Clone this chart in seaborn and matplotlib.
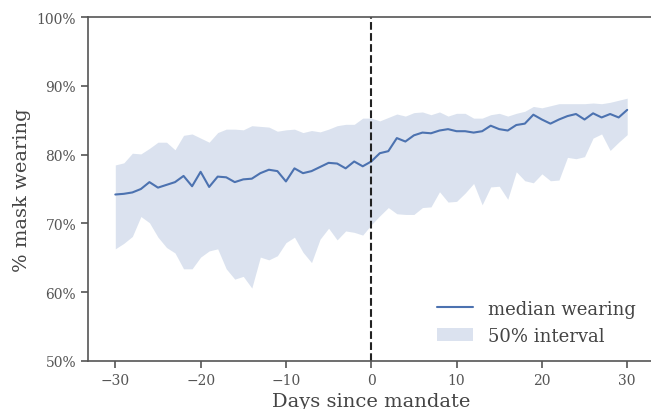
import numpy as np
import pandas as pd
import matplotlib
matplotlib.use("Agg")
import matplotlib.pyplot as plt
import seaborn as sns
from matplotlib.ticker import PercentFormatter

# days relative to the mandate
days = list(range(-30, 31))

# median mask wearing (%)
median = [74.2, 74.3, 74.5, 75.0, 76.0, 75.2, 75.6, 76.0, 76.9, 75.4,
          77.5, 75.3, 76.8, 76.7, 76.0, 76.4, 76.5, 77.3, 77.8, 77.6,
          76.1, 78.0, 77.3, 77.6, 78.2, 78.8, 78.7, 78.0, 79.0, 78.3,
          79.0,
          80.2, 80.5, 82.4, 81.9, 82.8, 83.2, 83.1, 83.5, 83.7, 83.4,
          83.4, 83.2, 83.4, 84.2, 83.7, 83.5, 84.3, 84.5, 85.8, 85.1,
          84.5, 85.1, 85.6, 85.9, 85.1, 86.0, 85.4, 85.9, 85.4, 86.5]

# 50% interval bounds (%)
lower = [66.3, 67.1, 68.1, 71.0, 70.1, 68.0, 66.5, 65.7, 63.4, 63.4,
         65.1, 66.0, 66.3, 63.4, 61.9, 62.3, 60.6, 65.1, 64.7, 65.3,
         67.2, 68.0, 65.8, 64.3, 67.7, 69.3, 67.6, 68.9, 68.7, 68.3,
         69.8,
         71.1, 72.3, 71.4, 71.3, 71.3, 72.3, 72.4, 74.6, 73.1, 73.2,
         74.4, 75.8, 72.7, 75.3, 75.4, 73.5, 77.5, 76.2, 75.9, 77.2,
         76.2, 76.3, 79.6, 79.4, 79.7, 82.4, 83.0, 80.6, 81.8, 82.9]

upper = [78.5, 78.8, 80.2, 80.1, 80.9, 81.8, 81.8, 80.7, 82.8, 83.0,
         82.4, 81.8, 83.2, 83.7, 83.7, 83.6, 84.2, 84.1, 84.0, 83.4,
         83.6, 83.7, 83.2, 83.5, 83.3, 83.7, 84.2, 84.4, 84.4, 85.3,
         85.3,
         84.9, 85.4, 85.9, 85.6, 86.1, 86.2, 85.8, 86.2, 85.6, 86.0,
         86.0, 85.3, 85.3, 85.8, 86.0, 85.6, 86.0, 86.3, 87.0, 86.8,
         87.1, 87.4, 87.4, 87.4, 87.4, 87.5, 87.4, 87.6, 87.9, 88.2]

df = pd.DataFrame({"day": days, "median": median, "lower": lower, "upper": upper})

sns.set_theme(style="ticks")
plt.rcParams["font.family"] = ["DejaVu Serif"]
grey = "#555555"
plt.rcParams.update({
    "axes.edgecolor": grey,
    "xtick.color": grey,
    "ytick.color": grey,
    "axes.labelcolor": "#444444",
    "text.color": "#444444",
})

fig = plt.figure(figsize=(6.51, 4.10), dpi=100)
ax = fig.add_axes([88 / 651, 48 / 410, 566.5 / 651, 344 / 410])

blue = sns.color_palette("deep")[0]
ax.fill_between(df["day"], df["lower"], df["upper"], color=blue, alpha=0.2,
                linewidth=0, label="50% interval")
sns.lineplot(data=df, x="day", y="median", ax=ax, color=blue, linewidth=1.5,
             label="median wearing")
ax.axvline(0, color="#222222", linestyle="--", linewidth=1.5)

ax.set_xlim(-33.2, 33.2)
ax.set_ylim(50, 100)
ax.set_xticks([-30, -20, -10, 0, 10, 20, 30])
ax.set_yticks([50, 60, 70, 80, 90, 100])
ax.yaxis.set_major_formatter(PercentFormatter(decimals=0))
ax.tick_params(labelsize=10, length=5, width=1.2)
for s in ["left", "bottom", "top"]:
    ax.spines[s].set_linewidth(1.2)
ax.spines["right"].set_visible(False)

ax.set_xlabel("Days since mandate", fontsize=14)
ax.set_ylabel("% mask wearing", fontsize=14)

handles, labels = ax.get_legend_handles_labels()
order = [labels.index("median wearing"), labels.index("50% interval")]
ax.legend([handles[i] for i in order], [labels[i] for i in order],
          loc="lower right", frameon=False, fontsize=13,
          bbox_to_anchor=(0.995, 0.0))

fig.savefig("out.png", dpi=100)
